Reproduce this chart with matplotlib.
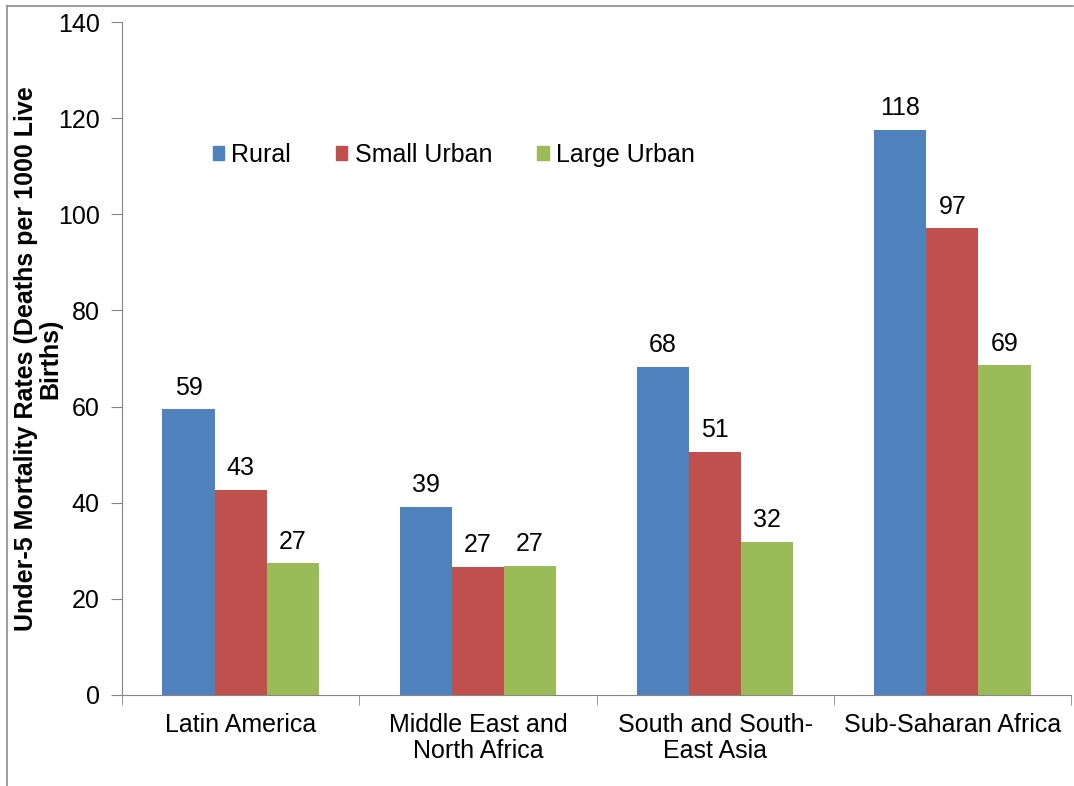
import numpy as np
import matplotlib
matplotlib.use('Agg')
from matplotlib import pyplot as plt
from matplotlib.patches import Patch
from matplotlib.lines import Line2D

plt.rcParams['font.family'] = ['Liberation Sans', 'DejaVu Sans']

# data
regions = ['Latin America', 'Middle East and\nNorth Africa', 'South and South-\nEast Asia', 'Sub-Saharan Africa']
series = ['Rural', 'Small Urban', 'Large Urban']
rural = [59.4, 39.2, 68.2, 117.6]
small_urban = [42.6, 26.7, 50.6, 97.1]
large_urban = [27.4, 26.9, 31.9, 68.6]
colors = ['#4F81BD', '#C0504D', '#9BBB59']

fig = plt.figure(figsize=(10.74, 7.86), dpi=100)
ax = fig.add_axes([122/1074, 91/786, 949/1074, 673/786])

x = np.arange(len(regions))
w = 0.22
grey = '#868686'
fs = 18
for i, (vals, c) in enumerate(zip([rural, small_urban, large_urban], colors)):
	bars = ax.bar(x + (i-1)*w, vals, w, color=c, label=series[i])
	ax.bar_label(bars, labels=['%d' % round(v) for v in vals], padding=7, fontsize=fs)

ax.set_xlim(-0.5, 3.5)
ax.set_ylim(0, 140)
ax.set_yticks(np.arange(0, 141, 20))
ax.set_xticks(x)
ax.set_xticklabels(regions, fontsize=fs, linespacing=1.1)
ax.set_xticks(np.arange(-0.5, 3.6, 1), minor=True)
ax.tick_params(axis='x', which='major', length=0, pad=13)
ax.tick_params(axis='x', which='minor', length=7, color=grey)
ax.tick_params(axis='y', length=8, color=grey, labelsize=fs, pad=8)

for s in ['top', 'right']:
	ax.spines[s].set_visible(False)
for s in ['left', 'bottom']:
	ax.spines[s].set_color(grey)

# y label wraps onto two lines; second line drawn separately so it stays compact
ax.set_ylabel('Under-5 Mortality Rates (Deaths per 1000 Live', fontsize=fs, fontweight='bold')
ax.yaxis.set_label_coords(-0.0885, 0.5)
ax.text(-0.076, 0.5, 'Births)', transform=ax.transAxes, rotation=90, ha='center', va='center', fontsize=fs, fontweight='bold')

handles = [Patch(color=c) for c in colors]
ax.legend(handles, series, ncol=3, frameon=False, fontsize=fs, loc='upper left', bbox_to_anchor=(0.085, 0.835), handlelength=0.45, handleheight=0.45, handletextpad=0.3, columnspacing=1.8, borderaxespad=0)

# outer chart frame (only top/left visible in the crop)
fig.add_artist(Line2D([7.5/1074, 7.5/1074], [0, 1-5.5/786], transform=fig.transFigure, color='#8c8c8c', lw=1.2))
fig.add_artist(Line2D([7.5/1074, 1073/1074], [1-5.5/786, 1-5.5/786], transform=fig.transFigure, color='#8c8c8c', lw=1.2))

fig.savefig('out.png', dpi=100)
